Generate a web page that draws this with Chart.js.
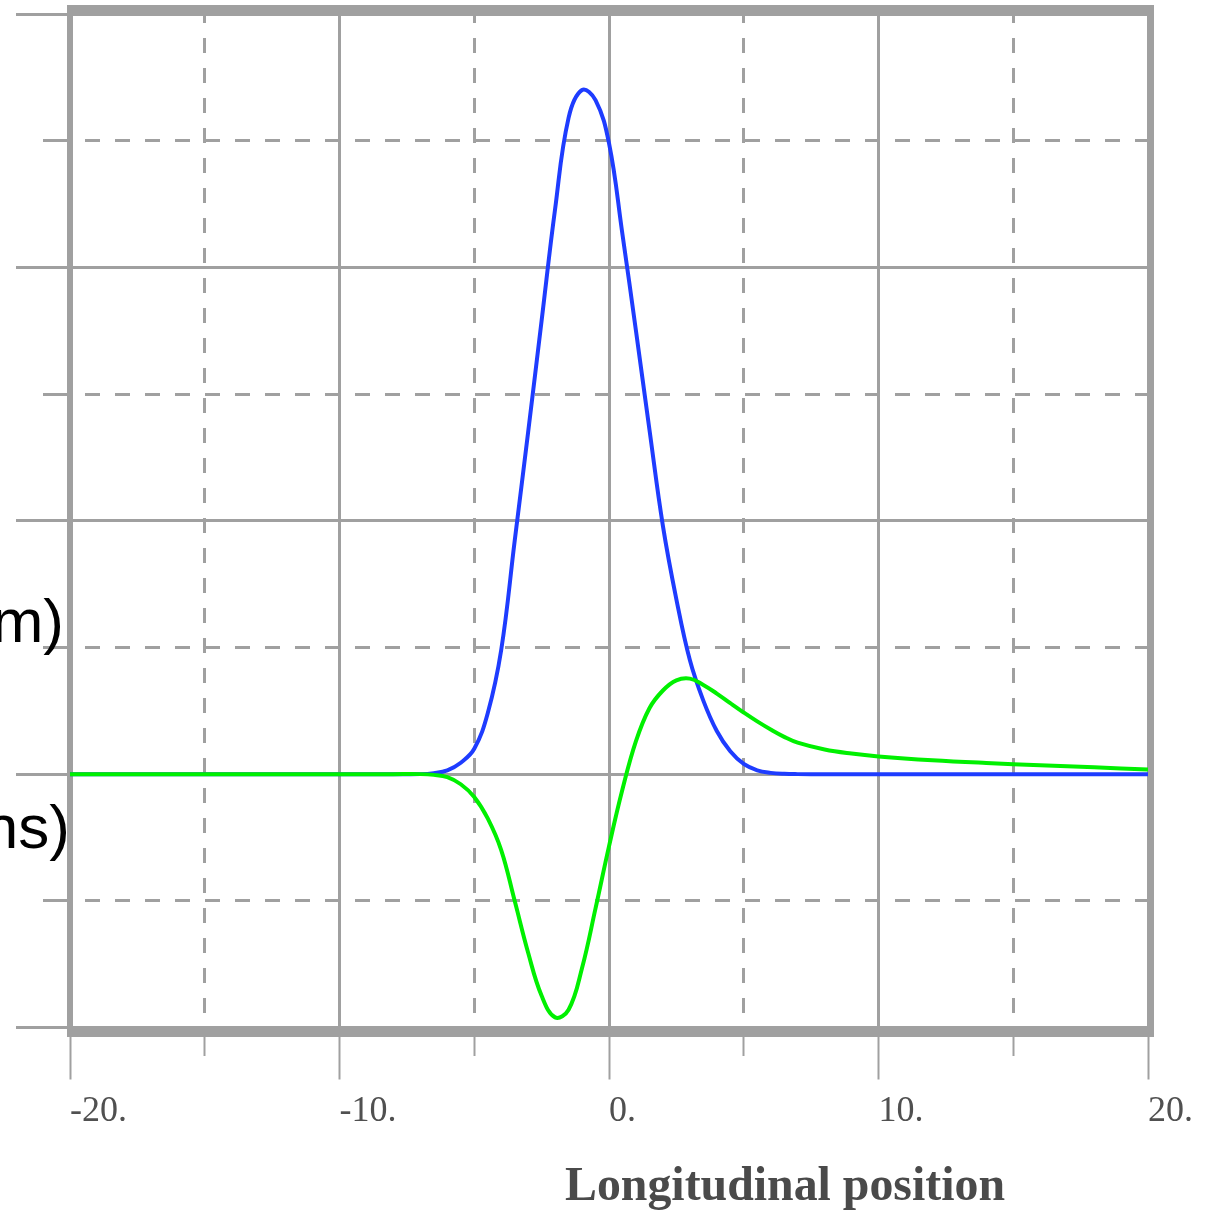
<!DOCTYPE html>
<html>
<head>
<meta charset="utf-8">
<script src="https://cdn.jsdelivr.net/npm/chart.js@4.4.0/dist/chart.umd.min.js"></script>
<style>
  html, body { margin: 0; padding: 0; background: #ffffff; }
  #wrap { width: 1205px; height: 1211px; position: relative; }
  canvas { display: block; }
</style>
</head>
<body>
<div id="wrap"><canvas id="c" width="1205" height="1211"></canvas></div>
<script>
// ---- data ----
const positions = [-20,-15,-10,-8,-7,-6.5,-6,-5.5,-5,-4.5,-4,-3.5,-3,-2.5,-2,-1.5,-1,-0.5,0,0.5,1,1.5,2,2.5,3,3.5,4,4.5,5,5.5,6,6.5,7,8,9,10,12,14,16,18,20];
const blueSeries = [0,0,0,0,0,0.004,0.015,0.045,0.10,0.24,0.49,0.92,1.35,1.79,2.23,2.59,2.70,2.66,2.49,2.13,1.75,1.36,0.98,0.69,0.45,0.29,0.17,0.09,0.04,0.015,0.005,0.001,0,0,0,0,0,0,0,0,0];
const greenSeries = [0,0,0,0,0,-0.003,-0.012,-0.04,-0.09,-0.175,-0.30,-0.50,-0.705,-0.875,-0.96,-0.93,-0.765,-0.53,-0.285,-0.06,0.13,0.26,0.33,0.37,0.377,0.352,0.318,0.28,0.243,0.208,0.176,0.147,0.124,0.097,0.081,0.07,0.055,0.044,0.035,0.027,0.018];
const xTickValues = [-20, -10, 0, 10, 20];
const xTickLabels = ['-20.', '-10.', '0.', '10.', '20.'];
const xTitle = 'Longitudinal position';
const leftTexts = ['m)', 'ns)'];

const GRID = '#a0a0a0';

const framePlugin = {
  id: 'frame',
  beforeDatasetsDraw(chart) {
    const ctx = chart.ctx, a = chart.chartArea;
    ctx.save();
    ctx.fillStyle = GRID;
    const l = a.left - 3, r = a.right + 6, t = a.top - 9, b = a.bottom + 9.5;
    ctx.fillRect(l, t, r - l, 10);          // top
    ctx.fillRect(l, a.bottom - 1.5, r - l, 11); // bottom
    ctx.fillRect(l, t, 6, b - t);            // left
    ctx.fillRect(a.right - 1, t, 7, b - t);  // right
    ctx.restore();
  },
  afterDraw(chart) {
    const ctx = chart.ctx;
    ctx.save();
    ctx.fillStyle = '#000000';
    ctx.font = '62px "Liberation Sans", Arial, sans-serif';
    ctx.textAlign = 'right';
    ctx.textBaseline = 'alphabetic';
    ctx.fillText(leftTexts[0], 64, 642);
    ctx.fillText(leftTexts[1], 70, 848);
    ctx.fillStyle = '#4a4a4a';
    ctx.font = 'bold 48px "Liberation Serif", "DejaVu Serif", serif';
    ctx.textAlign = 'left';
    const w = ctx.measureText(xTitle).width;
    ctx.translate(565, 1200);
    ctx.scale(440 / w, 1);
    ctx.fillText(xTitle, 0, 0);
    ctx.restore();
  }
};

const toPts = (ys) => positions.map((x, i) => ({ x: x, y: ys[i] }));

new Chart(document.getElementById('c'), {
  type: 'line',
  data: {
    datasets: [
      { label: 'green', data: toPts(greenSeries), borderColor: '#00f000', borderWidth: 4, pointRadius: 0, tension: 0.4, fill: false },
      { label: 'blue', data: toPts(blueSeries), borderColor: '#1e3cff', borderWidth: 4, pointRadius: 0, tension: 0.4, fill: false }
    ]
  },
  options: {
    responsive: false,
    animation: false,
    devicePixelRatio: 1,
    layout: { padding: { left: 0, right: 57, top: 14, bottom: 0 } },
    plugins: { legend: { display: false }, tooltip: { enabled: false } },
    scales: {
      x: {
        type: 'linear', min: -20, max: 20,
        afterFit(s) { s.height = 183.5; },
        afterBuildTicks(s) { s.ticks = [-20,-15,-10,-5,0,5,10,15,20].map(v => ({ value: v })); },
        ticks: {
          align: 'start', padding: 10, color: '#505050',
          font: { family: '"Liberation Serif", "DejaVu Serif", serif', size: 36 },
          maxRotation: 0, autoSkip: false,
          callback(v) { const i = xTickValues.indexOf(v); return i >= 0 ? xTickLabels[i] : ''; }
        },
        grid: {
          color: GRID, lineWidth: 3, tickLength: 52, tickWidth: 2, tickColor: GRID,
          tickBorderDash: (c) => (c.tick && c.tick.value % 10 === 0) ? [] : [28, 200]
        },
        border: { display: false, dash: (c) => (c.tick && c.tick.value % 10 === 0) ? [] : [15, 15], dashOffset: 6 }
      },
      y: {
        type: 'linear', min: -1, max: 3,
        afterFit(s) { s.width = 70; },
        afterBuildTicks(s) { s.ticks = [-1,-0.5,0,0.5,1,1.5,2,2.5,3].map(v => ({ value: v })); },
        ticks: { display: false },
        grid: {
          color: GRID, lineWidth: 3, tickLength: 54, tickWidth: 3, tickColor: GRID,
          tickBorderDash: (c) => (c.tick && c.tick.value % 1 === 0) ? [] : [27, 27],
          tickBorderDashOffset: (c) => (c.tick && c.tick.value % 1 === 0) ? 0 : 27
        },
        border: { display: false, dash: (c) => (c.tick && c.tick.value % 1 === 0) ? [] : [15, 15], dashOffset: 15 }
      }
    }
  },
  plugins: [framePlugin]
});
</script>
</body>
</html>
